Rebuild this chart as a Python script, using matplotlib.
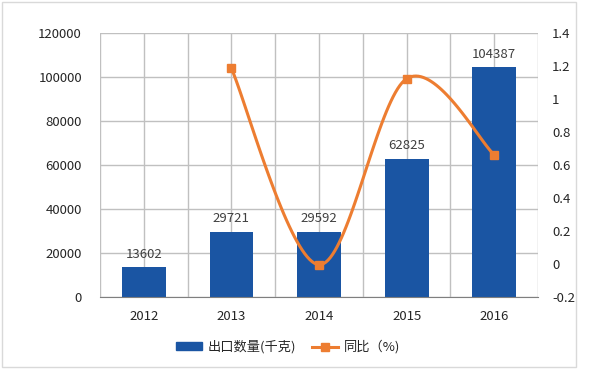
import numpy as np
from matplotlib import pyplot as plt
from matplotlib.patches import Rectangle
from matplotlib.lines import Line2D

plt.rcParams['font.family'] = ['Noto Sans CJK SC', 'DejaVu Sans']

years = ['2012', '2013', '2014', '2015', '2016']
export_qty = [13602, 29721, 29592, 62825, 104387]
yoy_years = [1, 2, 3, 4]
yoy = [1.185, -0.004, 1.123, 0.662]

bar_col = '#1a55a3'
line_col = '#ed7d31'
txt_col = '#262626'
grid_col = '#c0c0c0'


def catmull_rom(xs, ys, n=40):
	# Excel style smooth line through the points
	p = np.column_stack([xs, ys]).astype(float)
	p = np.vstack([p[0], p, p[-1]])
	out = []
	for i in range(1, len(p) - 2):
		p0, p1, p2, p3 = p[i-1], p[i], p[i+1], p[i+2]
		t = np.linspace(0, 1, n)[:, None]
		seg = 0.5*((2*p1) + (-p0+p2)*t + (2*p0-5*p1+4*p2-p3)*t**2 + (-p0+3*p1-3*p2+p3)*t**3)
		out.append(seg)
	out = np.vstack(out)
	return out[:, 0], out[:, 1]


def main():
	fig = plt.figure(figsize=(6, 3.69), dpi=100)
	ax = fig.add_axes([0.1667, 0.195, 0.73, 0.7156])
	x = np.arange(len(years))

	ax.bar(x, export_qty, width=0.5, color=bar_col, zorder=3)
	for xi, v in zip(x, export_qty):
		ax.text(xi, v + 3000, str(v), ha='center', va='bottom', fontsize=9.5, color='#404040', zorder=5)

	ax.set_xlim(-0.5, 4.5)
	ax.set_ylim(0, 120000)
	ax.set_yticks(np.arange(0, 120001, 20000))
	ax.set_xticks(x)
	ax.set_xticklabels(years)
	ax.set_xticks(np.arange(-0.5, 4.6, 1.0), minor=True)
	ax.grid(True, axis='y', color=grid_col, lw=1, zorder=0)
	ax.grid(True, axis='x', which='both', color=grid_col, lw=1, zorder=0)
	ax.tick_params(axis='both', which='both', length=0, labelsize=9.5, colors=txt_col)
	ax.tick_params(axis='y', pad=13)
	ax.tick_params(axis='x', pad=9)
	for s in ['top', 'left', 'right']:
		ax.spines[s].set_visible(False)
	ax.spines['bottom'].set_color('#7f7f7f')
	ax.spines['bottom'].set_zorder(4)

	ax2 = ax.twinx()
	ax2.set_ylim(-0.2, 1.4)
	ticks = np.round(np.arange(-0.2, 1.41, 0.2), 1)
	ax2.set_yticks(ticks)
	ax2.set_yticklabels(['{:g}'.format(t) for t in ticks])
	ax2.tick_params(axis='y', length=0, labelsize=9.5, colors=txt_col, pad=10)
	for s in ax2.spines.values():
		s.set_visible(False)
	sx, sy = catmull_rom(yoy_years, yoy)
	ax2.plot(sx, sy, color=line_col, lw=2.2, zorder=4)
	ax2.plot(yoy_years, yoy, 's', color=line_col, ms=6, zorder=5)

	handles = [Rectangle((0, 0), 1, 1, color=bar_col),
		Line2D([], [], color=line_col, lw=2.2, marker='s', ms=6)]
	fig.legend(handles, ['出口数量(千克)', '同比（%)'], loc='center', bbox_to_anchor=(0.48, 0.06),
		ncol=2, frameon=False, fontsize=9.5, handlelength=2.0, handleheight=0.5, columnspacing=1.2,
		handletextpad=0.4, labelcolor=txt_col)

	fig.patches.append(Rectangle((0.004, 0.005), 0.956, 0.99, transform=fig.transFigure,
		fill=False, edgecolor='#d9d9d9', lw=1))

	fig.savefig('out.png', dpi=100)


if __name__ == "__main__":
	main()
